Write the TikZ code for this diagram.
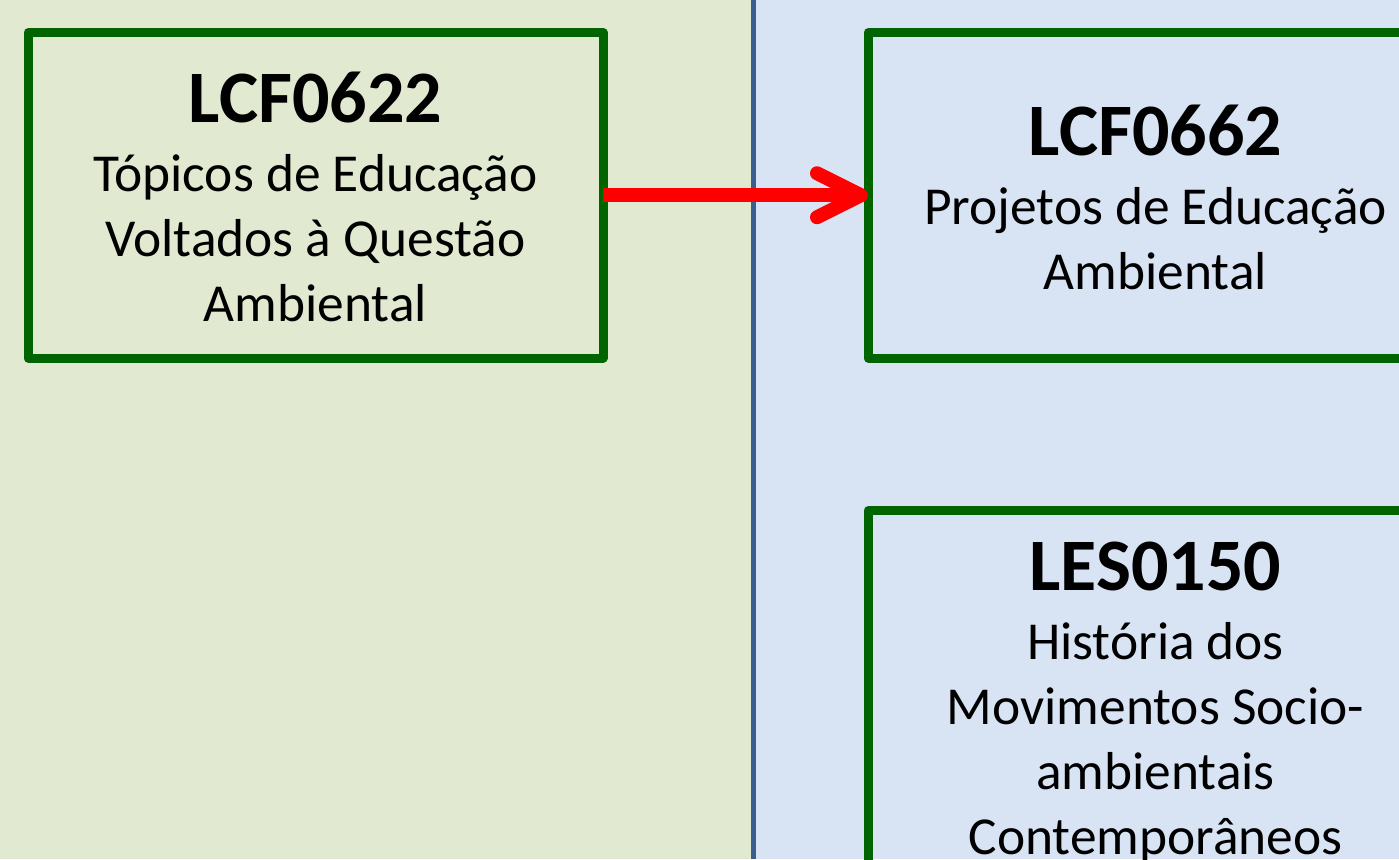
\documentclass[tikz,border=0pt]{standalone}
\usepackage{fontspec}
\setmainfont{Carlito}
\usepackage{xcolor}
\usepackage{tikz}
\usetikzlibrary{positioning,arrows.meta}
\definecolor{bgleft}{HTML}{E1E9D0}
\definecolor{bgright}{HTML}{D8E4F4}
\definecolor{divline}{HTML}{3A5F8E}
\definecolor{boxgreen}{HTML}{006400}
\newcommand{\coursecode}[1]{\rule{0pt}{36.5pt}{\fontsize{37}{40}\selectfont\bfseries #1}}

\begin{document}
\begin{tikzpicture}[x=0.5pt, y=-0.5pt, node distance=132.5pt,
        main/.style={draw=boxgreen, line width=4.5pt, rectangle, line join=round, outer sep=0pt,
            minimum width=287.5pt, minimum height=162.75pt, font=\fontsize{26.7}{32.5}\selectfont}]
        \useasboundingbox (0,0) rectangle (1399,859);
        \fill[bgleft] (0,0) rectangle (753,859);
        \fill[bgright] (753,0) rectangle (1399,859);
        \draw[divline, line width=2.5pt] (753,0) -- (753,859);
        \node[main] (1) at (315.5,195.25) {\begin{tabular}{c}\coursecode{LCF0622} \\[2pt] Tópicos de Educação \\ Voltados à Questão \\ Ambiental\end{tabular}};
        \node[main] (2) [right=of 1] {\begin{tabular}{c}\coursecode{LCF0662} \\[2pt] Projetos de Educação \\ Ambiental\end{tabular}};
        \node[main, minimum height=182.75pt] (3) [below=76.25pt of 2] {\begin{tabular}{c}\coursecode{LES0150} \\[2pt] História dos \\ Movimentos Socio- \\ ambientais \\ Contemporâneos\end{tabular}};
        \draw[-{Straight Barb[length=22pt, width=22pt, round]}, red, line width=7pt] (1) -- (2);
    \end{tikzpicture}
\end{document}
